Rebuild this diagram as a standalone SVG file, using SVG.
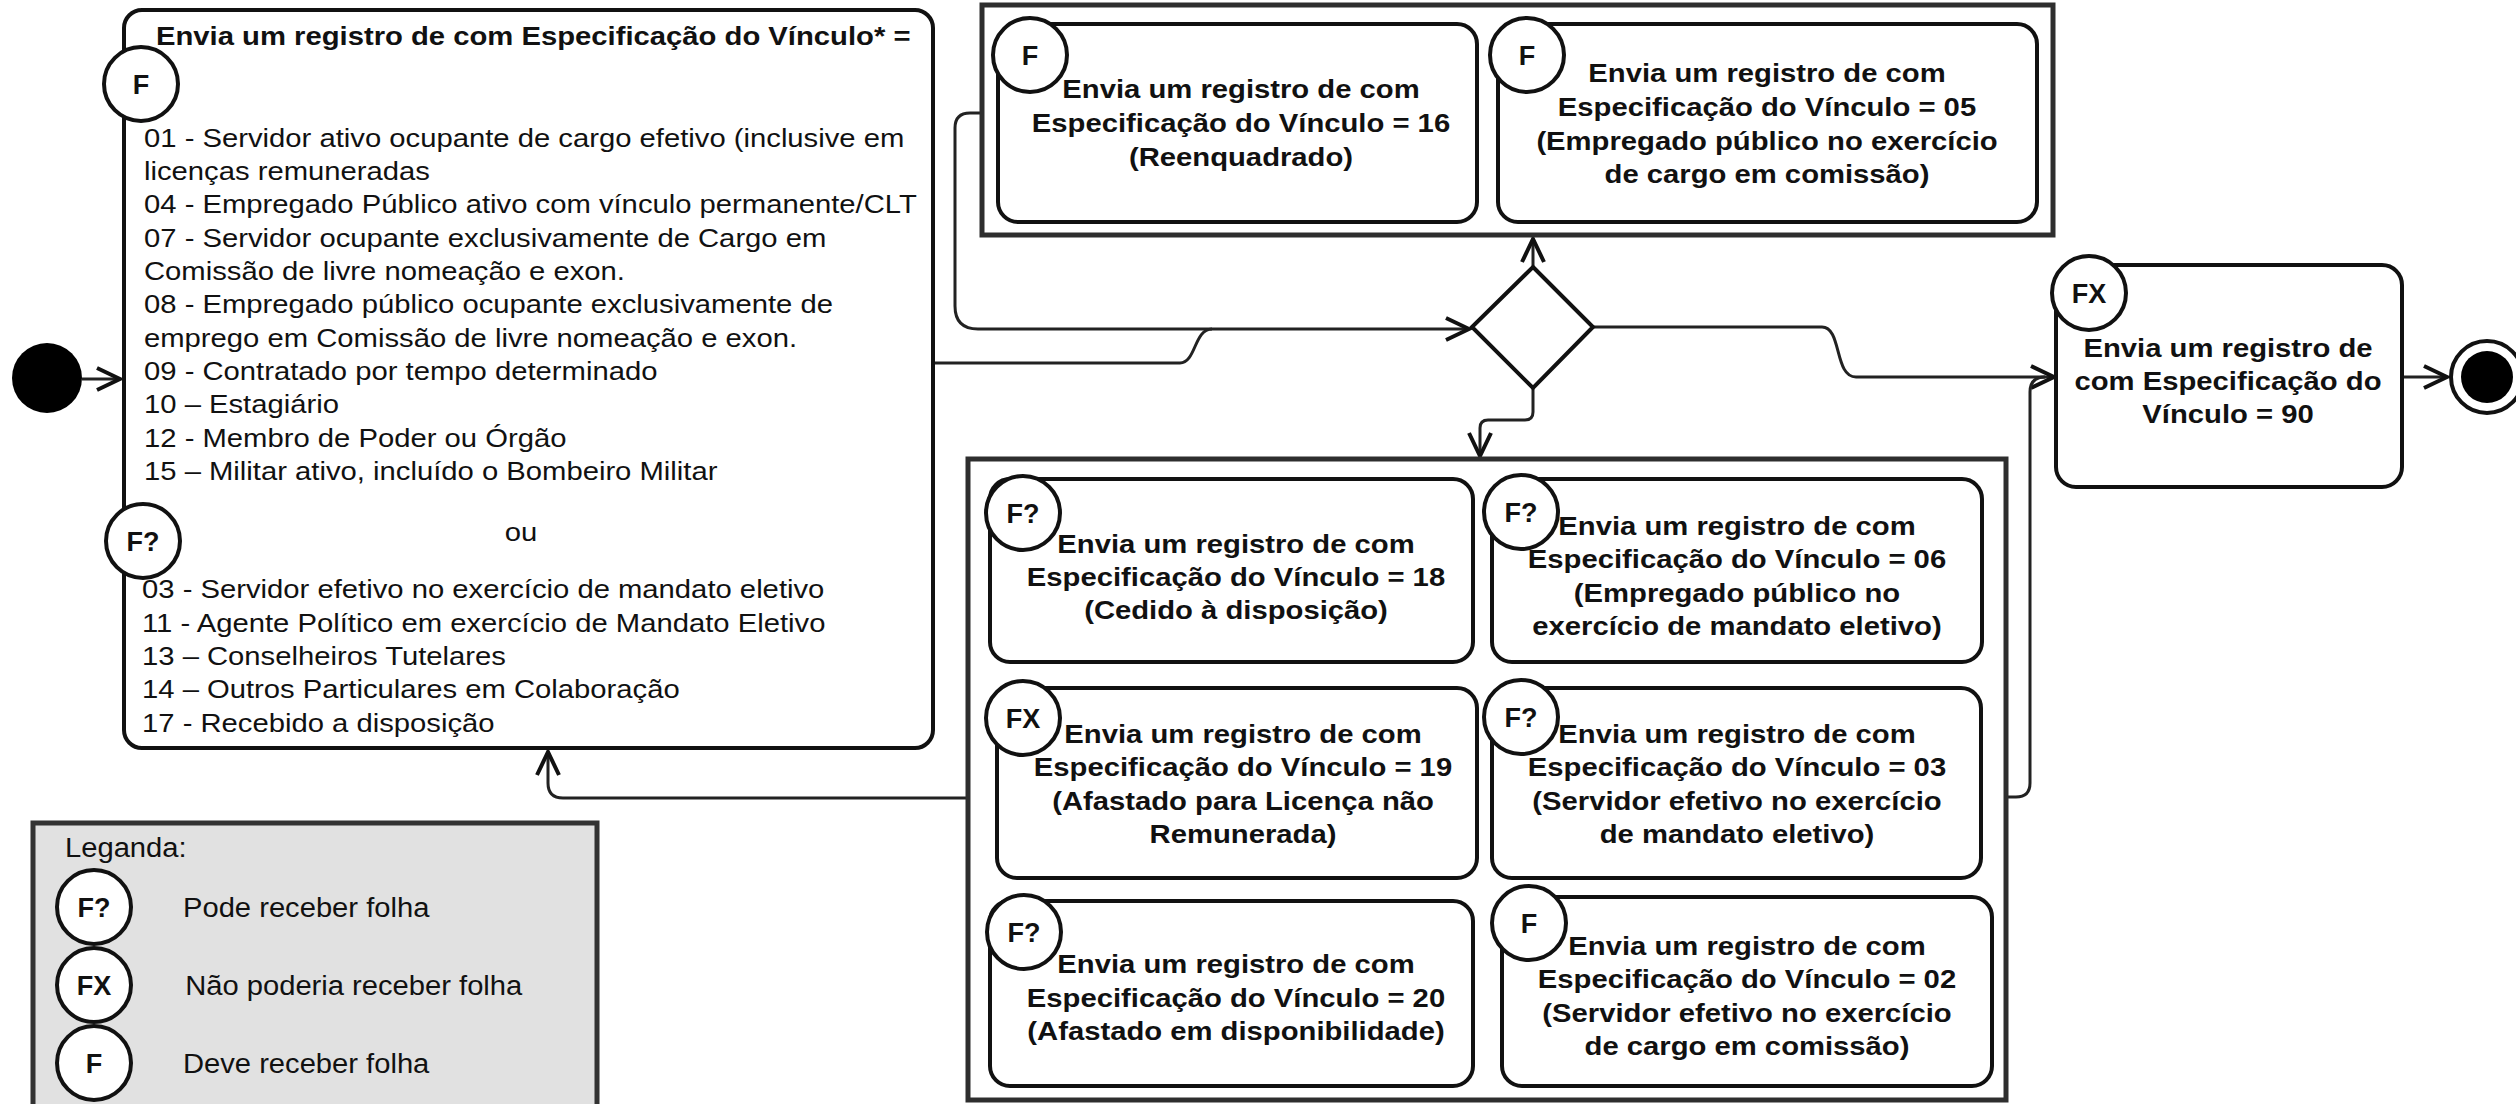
<svg xmlns="http://www.w3.org/2000/svg" width="2516" height="1104" viewBox="0 0 2516 1104">
<style>
  .box{fill:#fff;stroke:#111;stroke-width:4}
  .cont{fill:none;stroke:#2e2e2e;stroke-width:5}
  .tag{fill:#fff;stroke:#111;stroke-width:4}
  .tl{font-family:"Liberation Sans",Arial,sans-serif;font-weight:bold;font-size:27px;fill:#111;text-anchor:middle}
  .b{font-family:"Liberation Sans",Arial,sans-serif;font-weight:bold;font-size:25px;fill:#111}
  .bc{font-family:"Liberation Sans",Arial,sans-serif;font-weight:bold;font-size:25px;fill:#111;text-anchor:middle}
  .r{font-family:"Liberation Sans",Arial,sans-serif;font-size:25px;fill:#111}
  .lg{font-family:"Liberation Sans",Arial,sans-serif;font-size:27px;fill:#111}
  .edge{fill:none;stroke:#222;stroke-width:3}
</style>
<defs>
  <marker id="arr" markerUnits="userSpaceOnUse" markerWidth="30" markerHeight="26" viewBox="0 0 30 26" refX="26" refY="13" orient="auto">
    <path d="M3,2 L26,13 L3,24" fill="none" stroke="#111" stroke-width="4"/>
  </marker>
</defs>
<rect width="2516" height="1104" fill="#fff"/>

<g id="connectors">
  <path class="edge" d="M82 379 H120" marker-end="url(#arr)"/>
  <path class="edge" d="M935 363 H1180 C1196 363 1194 329 1212 329 H1469" marker-end="url(#arr)"/>
  <path class="edge" d="M982 113 H970 Q955 113 955 128 V306 Q955 329 978 329 H1212"/>
  <path class="edge" d="M1533 267 V239" marker-end="url(#arr)"/>
  <path class="edge" d="M1593 327 H1822 C1842 327 1834 377 1856 377 H2054" marker-end="url(#arr)"/>
  <path class="edge" d="M2006 797 H2016 Q2030 797 2030 783 V392 Q2030 377 2045 377"/>
  <path class="edge" d="M1533 388 V412 Q1533 420 1525 420 H1488 Q1480 420 1480 428 V456" marker-end="url(#arr)"/>
  <path class="edge" d="M968 798 H563 Q548 798 548 783 V752" marker-end="url(#arr)"/>
  <path class="edge" d="M2404 377 H2447" marker-end="url(#arr)"/>
</g>

<g id="start">
  <circle cx="47" cy="378" r="35" fill="#000"/>
</g>

<g id="node-main">
  <rect class="box" x="124" y="10" width="809" height="738" rx="18"/>
  <g transform="translate(156 0) scale(1.17 1)">
    <text class="b" x="0" y="45">Envia um registro de com Especificação do Vínculo* =</text>
  </g>
  <g transform="translate(144 0) scale(1.17 1)">
    <text class="r">
      <tspan x="0" y="147">01 - Servidor ativo ocupante de cargo efetivo (inclusive em</tspan>
      <tspan x="0" y="180">licenças remuneradas</tspan>
      <tspan x="0" y="213">04 - Empregado Público ativo com vínculo permanente/CLT</tspan>
      <tspan x="0" y="247">07 - Servidor ocupante exclusivamente de Cargo em</tspan>
      <tspan x="0" y="280">Comissão de livre nomeação e exon.</tspan>
      <tspan x="0" y="313">08 - Empregado público ocupante exclusivamente de</tspan>
      <tspan x="0" y="347">emprego em Comissão de livre nomeação e exon.</tspan>
      <tspan x="0" y="380">09 - Contratado por tempo determinado</tspan>
      <tspan x="0" y="413">10 – Estagiário</tspan>
      <tspan x="0" y="447">12 - Membro de Poder ou Órgão</tspan>
      <tspan x="0" y="480">15 – Militar ativo, incluído o Bombeiro Militar</tspan>
    </text>
  </g>
  <g transform="translate(521 0) scale(1.17 1)">
    <text class="r" x="0" y="541" text-anchor="middle">ou</text>
  </g>
  <g transform="translate(142 0) scale(1.17 1)">
    <text class="r">
      <tspan x="0" y="598">03 - Servidor efetivo no exercício de mandato eletivo</tspan>
      <tspan x="0" y="632">11 - Agente Político em exercício de Mandato Eletivo</tspan>
      <tspan x="0" y="665">13 – Conselheiros Tutelares</tspan>
      <tspan x="0" y="698">14 – Outros Particulares em Colaboração</tspan>
      <tspan x="0" y="732">17 - Recebido a disposição</tspan>
    </text>
  </g>
  <circle class="tag" cx="141" cy="84" r="37"/>
  <text class="tl" x="141" y="94">F</text>
  <circle class="tag" cx="143" cy="541" r="37"/>
  <text class="tl" x="143" y="551">F?</text>
</g>

<g id="container-top">
  <rect class="cont" x="982" y="5" width="1071" height="230"/>
</g>

<g id="node-16">
  <rect class="box" x="998" y="24" width="479" height="198" rx="20"/>
  <g transform="translate(1241 0) scale(1.17 1)">
    <text class="bc"><tspan x="0" y="98">Envia um registro de com</tspan><tspan x="0" y="132">Especificação do Vínculo = 16</tspan><tspan x="0" y="166">(Reenquadrado)</tspan></text>
  </g>
  <circle class="tag" cx="1030" cy="55" r="37"/>
  <text class="tl" x="1030" y="65">F</text>
</g>

<g id="node-05">
  <rect class="box" x="1498" y="24" width="539" height="198" rx="20"/>
  <g transform="translate(1767 0) scale(1.17 1)">
    <text class="bc"><tspan x="0" y="82">Envia um registro de com</tspan><tspan x="0" y="116">Especificação do Vínculo = 05</tspan><tspan x="0" y="150">(Empregado público no exercício</tspan><tspan x="0" y="183">de cargo em comissão)</tspan></text>
  </g>
  <circle class="tag" cx="1527" cy="55" r="37"/>
  <text class="tl" x="1527" y="65">F</text>
</g>

<g id="gateway">
  <polygon points="1533,267 1593,327 1533,388 1472,327" fill="#fff" stroke="#111" stroke-width="4"/>
</g>

<g id="container-bottom">
  <rect class="cont" x="968" y="459" width="1038" height="641"/>
</g>

<g id="node-18">
  <rect class="box" x="990" y="479" width="483" height="183" rx="20"/>
  <g transform="translate(1236 0) scale(1.17 1)">
    <text class="bc"><tspan x="0" y="553">Envia um registro de com</tspan><tspan x="0" y="586">Especificação do Vínculo = 18</tspan><tspan x="0" y="619">(Cedido à disposição)</tspan></text>
  </g>
  <circle class="tag" cx="1023" cy="513" r="37"/>
  <text class="tl" x="1023" y="523">F?</text>
</g>

<g id="node-06">
  <rect class="box" x="1492" y="479" width="490" height="183" rx="20"/>
  <g transform="translate(1737 0) scale(1.17 1)">
    <text class="bc"><tspan x="0" y="535">Envia um registro de com</tspan><tspan x="0" y="568">Especificação do Vínculo = 06</tspan><tspan x="0" y="602">(Empregado público no</tspan><tspan x="0" y="635">exercício de mandato eletivo)</tspan></text>
  </g>
  <circle class="tag" cx="1521" cy="512" r="37"/>
  <text class="tl" x="1521" y="522">F?</text>
</g>

<g id="node-19">
  <rect class="box" x="997" y="688" width="480" height="190" rx="20"/>
  <g transform="translate(1243 0) scale(1.17 1)">
    <text class="bc"><tspan x="0" y="743">Envia um registro de com</tspan><tspan x="0" y="776">Especificação do Vínculo = 19</tspan><tspan x="0" y="810">(Afastado para Licença não</tspan><tspan x="0" y="843">Remunerada)</tspan></text>
  </g>
  <circle class="tag" cx="1023" cy="718" r="37"/>
  <text class="tl" x="1023" y="728">FX</text>
</g>

<g id="node-03">
  <rect class="box" x="1492" y="688" width="489" height="190" rx="20"/>
  <g transform="translate(1737 0) scale(1.17 1)">
    <text class="bc"><tspan x="0" y="743">Envia um registro de com</tspan><tspan x="0" y="776">Especificação do Vínculo = 03</tspan><tspan x="0" y="810">(Servidor efetivo no exercício</tspan><tspan x="0" y="843">de mandato eletivo)</tspan></text>
  </g>
  <circle class="tag" cx="1521" cy="717" r="37"/>
  <text class="tl" x="1521" y="727">F?</text>
</g>

<g id="node-20">
  <rect class="box" x="990" y="901" width="483" height="185" rx="20"/>
  <g transform="translate(1236 0) scale(1.17 1)">
    <text class="bc"><tspan x="0" y="973">Envia um registro de com</tspan><tspan x="0" y="1007">Especificação do Vínculo = 20</tspan><tspan x="0" y="1040">(Afastado em disponibilidade)</tspan></text>
  </g>
  <circle class="tag" cx="1024" cy="932" r="37"/>
  <text class="tl" x="1024" y="942">F?</text>
</g>

<g id="node-02">
  <rect class="box" x="1502" y="897" width="490" height="189" rx="20"/>
  <g transform="translate(1747 0) scale(1.17 1)">
    <text class="bc"><tspan x="0" y="955">Envia um registro de com</tspan><tspan x="0" y="988">Especificação do Vínculo = 02</tspan><tspan x="0" y="1022">(Servidor efetivo no exercício</tspan><tspan x="0" y="1055">de cargo em comissão)</tspan></text>
  </g>
  <circle class="tag" cx="1529" cy="923" r="37"/>
  <text class="tl" x="1529" y="933">F</text>
</g>

<g id="node-90">
  <rect class="box" x="2056" y="265" width="346" height="222" rx="20"/>
  <g transform="translate(2228 0) scale(1.17 1)">
    <text class="bc"><tspan x="0" y="357">Envia um registro de</tspan><tspan x="0" y="390">com Especificação do</tspan><tspan x="0" y="423">Vínculo = 90</tspan></text>
  </g>
  <circle class="tag" cx="2089" cy="293" r="37"/>
  <text class="tl" x="2089" y="303">FX</text>
</g>

<g id="end">
  <circle cx="2487" cy="377" r="36" fill="#fff" stroke="#111" stroke-width="4"/>
  <circle cx="2487" cy="377" r="26" fill="#000"/>
</g>

<g id="legend">
  <rect x="33" y="823" width="564" height="300" fill="#e1e1e1" stroke="#333" stroke-width="5"/>
  <g transform="translate(65 0) scale(1.08 1)">
    <text class="lg" x="0" y="857">Leganda:</text>
  </g>
  <circle class="tag" cx="94" cy="907" r="37"/>
  <text class="tl" x="94" y="917">F?</text>
  <circle class="tag" cx="94" cy="985" r="37"/>
  <text class="tl" x="94" y="995">FX</text>
  <circle class="tag" cx="94" cy="1063" r="37"/>
  <text class="tl" x="94" y="1073">F</text>
  <g transform="translate(183 0) scale(1.08 1)">
    <text class="lg"><tspan x="0" y="917">Pode receber folha</tspan><tspan x="2" y="995">Não poderia receber folha</tspan><tspan x="0" y="1073">Deve receber folha</tspan></text>
  </g>
</g>
</svg>
